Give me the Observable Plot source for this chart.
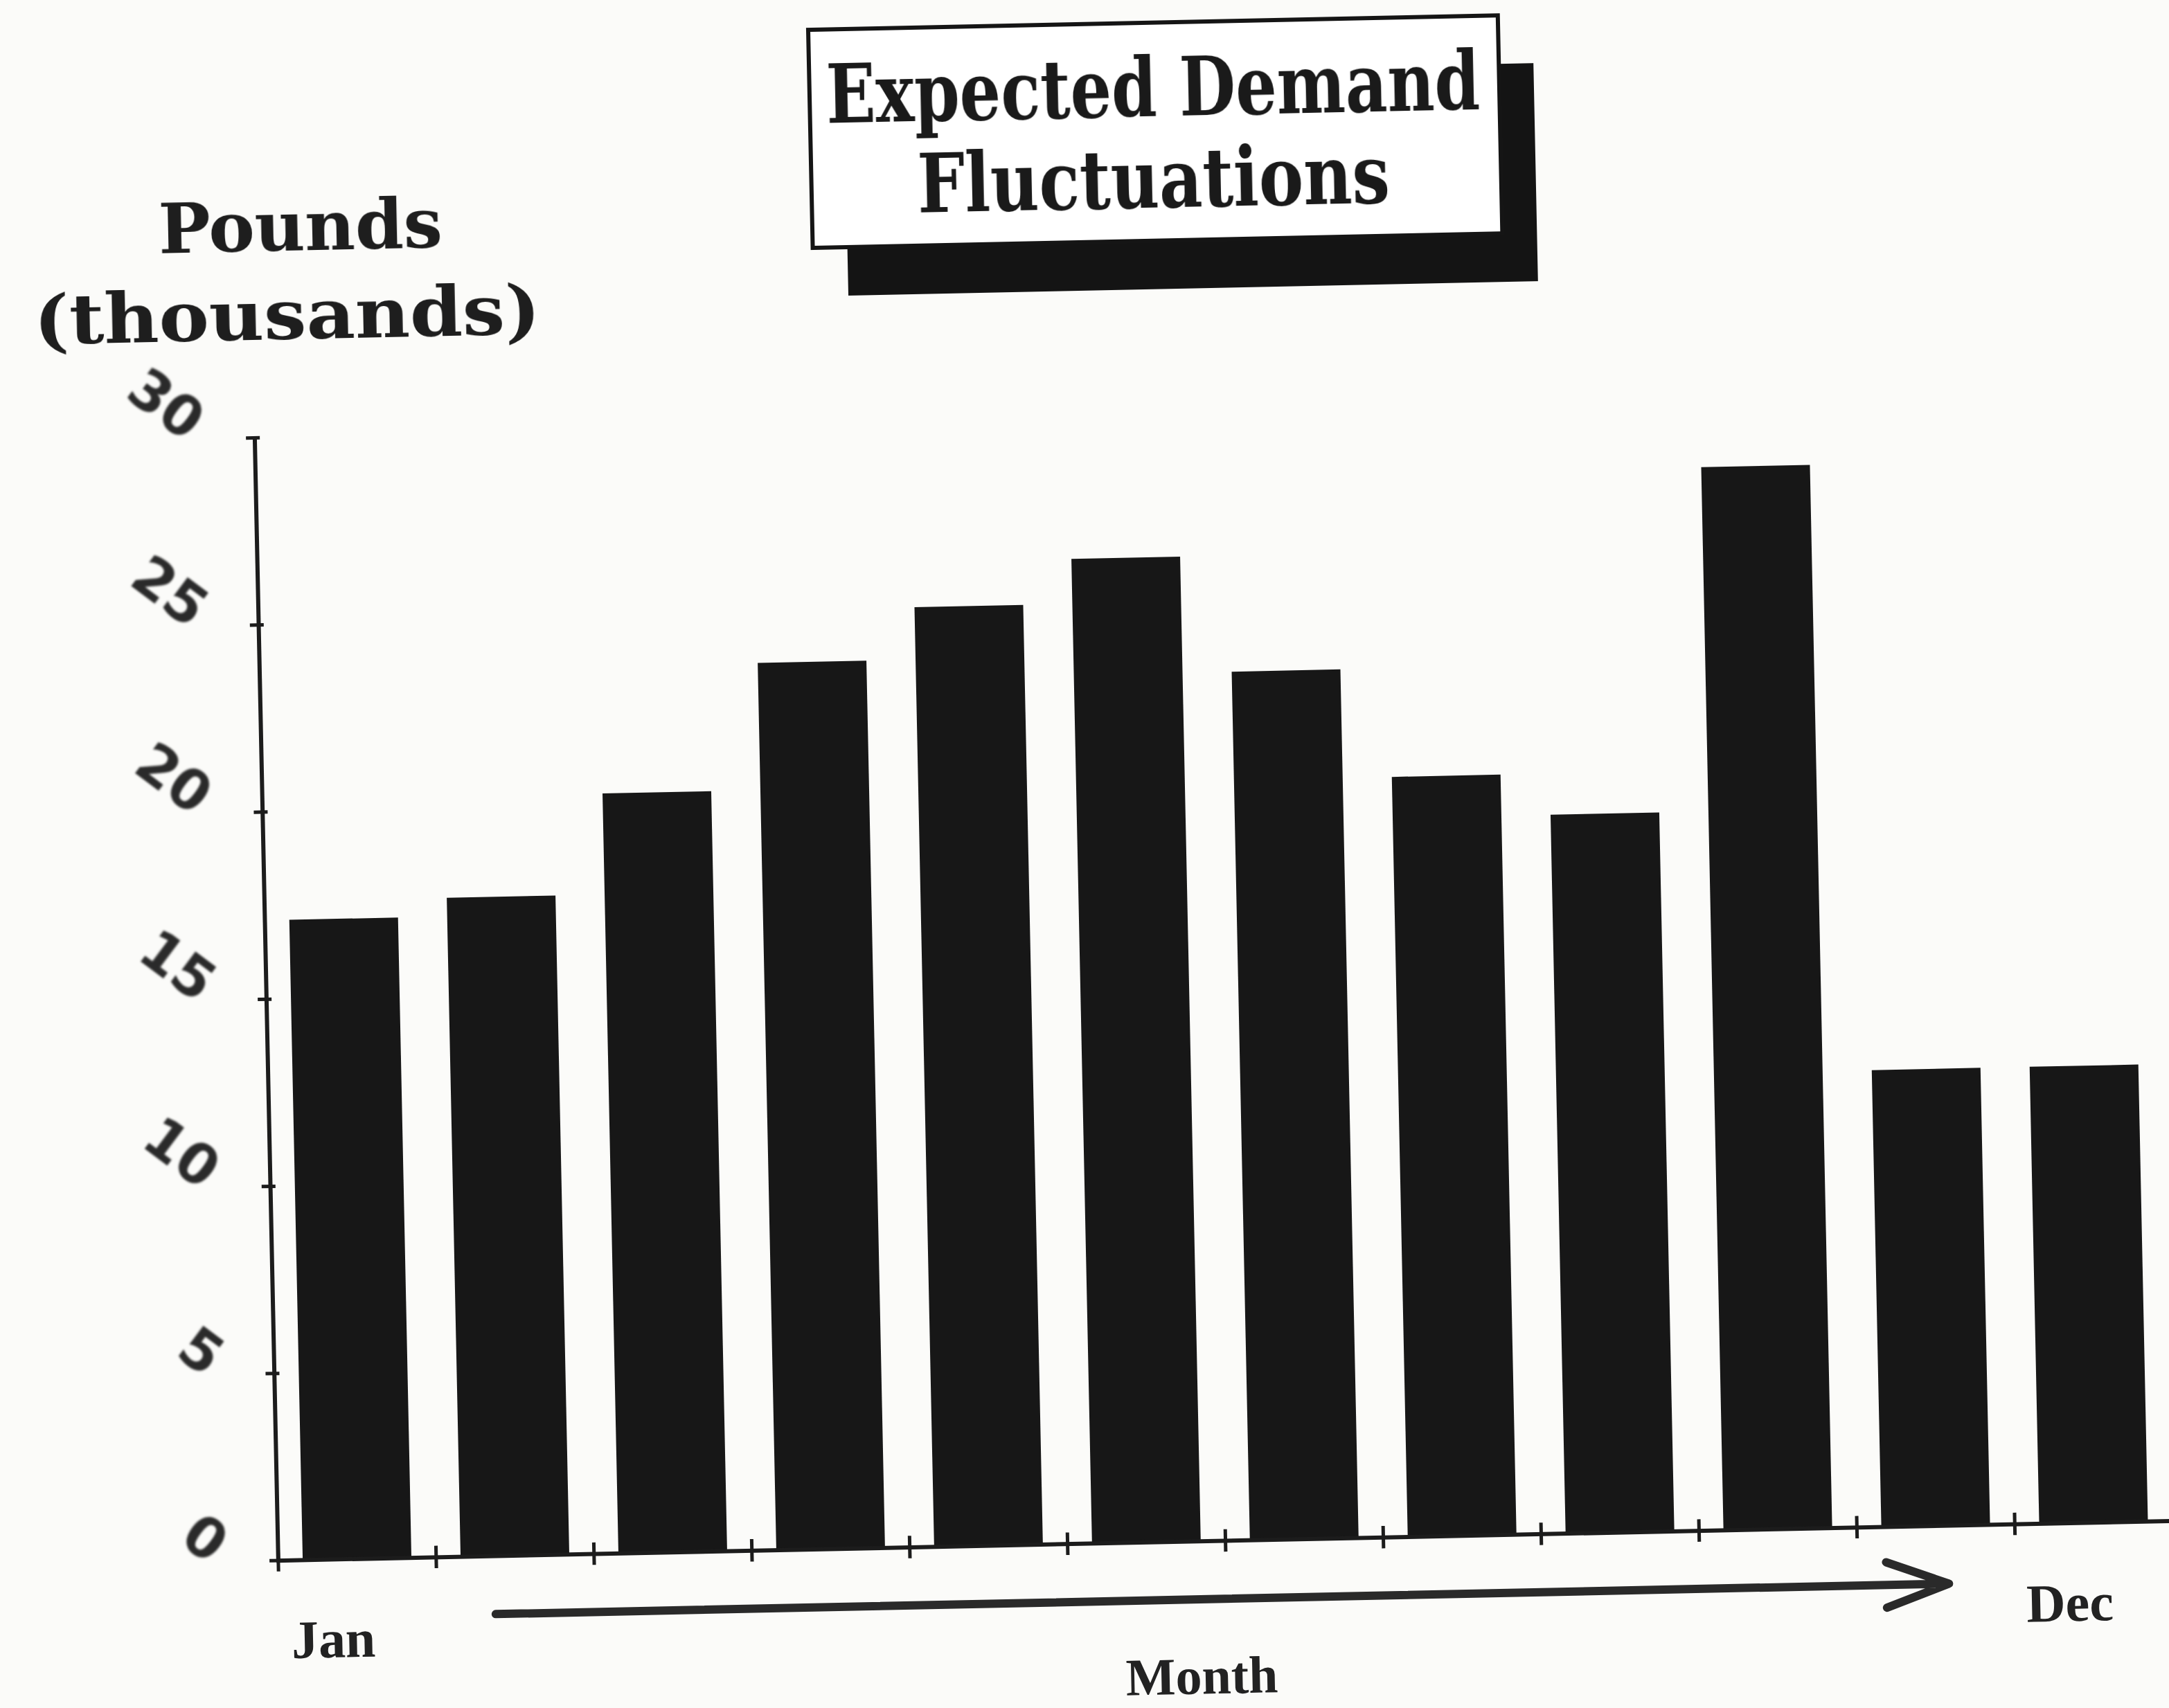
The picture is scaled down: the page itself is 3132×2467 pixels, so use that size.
<!DOCTYPE html>
<html>
<head>
<meta charset="utf-8">
<script src="https://cdn.jsdelivr.net/npm/d3@7"></script>
<script src="https://cdn.jsdelivr.net/npm/@observablehq/plot@0.6"></script>
<style>
  html, body { margin: 0; padding: 0; background: #fbfbf9; overflow: hidden; }
  #page {
    position: relative; width: 3132px; height: 2467px;
    transform: rotate(-1.2deg); transform-origin: 50% 50%;
  }
  #page > svg { position: absolute; left: 0; top: 0; }
  #overlay { pointer-events: none; }
</style>
</head>
<body>
<div id="page">
  <div id="chart"></div>
  <svg id="overlay" width="3132" height="2467" xmlns="http://www.w3.org/2000/svg">
    <!-- title box with drop shadow -->
    <rect x="1242" y="105" width="996" height="315" fill="#141414"/>
    <rect x="1192" y="35" width="996" height="315" fill="#ffffff" stroke="#151515" stroke-width="6"/>
    <text x="1688" y="170" text-anchor="middle" textLength="944" lengthAdjust="spacingAndGlyphs"
          font-family="'DejaVu Serif Condensed', 'DejaVu Serif', serif" font-weight="bold" font-size="118" fill="#1a1a1a">Expected Demand</text>
    <text x="1686" y="302" text-anchor="middle" textLength="682" lengthAdjust="spacingAndGlyphs"
          font-family="'DejaVu Serif Condensed', 'DejaVu Serif', serif" font-weight="bold" font-size="118" fill="#1a1a1a">Fluctuations</text>
    <!-- y-axis title -->
    <text x="248" y="338" textLength="410" lengthAdjust="spacingAndGlyphs"
          font-family="'DejaVu Serif Condensed', 'DejaVu Serif', serif" font-weight="bold" font-size="100" fill="#1e1e1e">Pounds</text>
    <text x="65" y="466" textLength="732" lengthAdjust="spacingAndGlyphs"
          font-family="'DejaVu Serif Condensed', 'DejaVu Serif', serif" font-weight="bold" font-size="100" fill="#1e1e1e">(thousands)</text>
  </svg>
</div>
<script>
// Monthly expected demand, in thousands of pounds
const months = ["Jan", "Feb", "Mar", "Apr", "May", "Jun", "Jul", "Aug", "Sep", "Oct", "Nov", "Dec"];
const demand = [17.1, 17.6, 20.3, 23.7, 25.1, 26.3, 23.2, 20.3, 19.2, 28.4, 12.2, 12.2];
const yTicks = [0, 5, 10, 15, 20, 25, 30];
const labeledMonths = ["Jan", "Dec"];
const arrowSpan = {from: "Feb", to: "Nov", y: -1.55};

const data = months.map((month, i) => ({month, demand: demand[i]}));

const W = 3132, H = 2467;
const marginLeft = 378, marginRight = 12, marginTop = 607, marginBottom = 238;
const step = (W - marginLeft - marginRight) / months.length;

const ink = "#1c1c1c";

const chart = Plot.plot({
  width: W,
  height: H,
  marginLeft, marginRight, marginTop, marginBottom,
  style: {background: "transparent", color: ink, overflow: "visible"},
  x: {domain: months, paddingInner: 0.31, paddingOuter: 0.155, axis: null},
  y: {domain: [0, 30], axis: null},
  marks: [
    Plot.barY(data, {x: "month", y: "demand", fill: "#171717"}),
    // baseline and vertical axis line
    Plot.ruleY([0], {stroke: ink, strokeWidth: 6}),
    Plot.ruleX([months[0]], {x: d => d, y1: 0, y2: 30, dx: -step / 2, stroke: ink, strokeWidth: 6}),
    // small ticks across the baseline at month boundaries
    Plot.ruleX(months, {x: d => d, y1: -0.3, y2: 0.3, dx: -step / 2, stroke: ink, strokeWidth: 5}),
    // y ticks crossing the axis line (tick lines only)
    Plot.axisY({ticks: yTicks, tickSize: 20, dx: 10, fill: "none", label: null, stroke: ink, strokeWidth: 5}),
    // rotated y tick labels
    Plot.axisY({
      ticks: yTicks, tickSize: 0, tickPadding: 82, dy: -16, tickRotate: 38, label: null,
      textAnchor: "end", fontSize: 80, fontWeight: "bold",
      fontFamily: "'DejaVu Sans', sans-serif", fill: "#2a2a2a"
    }),
    Plot.axisX({
      ticks: labeledMonths, tickSize: 0, tickPadding: 86, dx: -37, label: null,
      fontSize: 78, fontWeight: "bold", fontFamily: "'Liberation Serif', serif", fill: "#222"
    }),
    Plot.text(["Month"], {
      frameAnchor: "bottom", dy: 196, dx: -39, lineAnchor: "middle",
      fontSize: 76, fontWeight: "bold", fontFamily: "'Liberation Serif', serif", fill: "#222"
    }),
    Plot.arrow([arrowSpan], {
      x1: "from", x2: "to", y1: "y", y2: "y",
      insetStart: -30, insetEnd: -17, headLength: 12, headAngle: 40,
      stroke: "#2a2a2a", strokeWidth: 12
    })
  ]
});

document.getElementById("chart").appendChild(chart);
chart.style.position = "absolute";
chart.style.left = "0px";
chart.style.top = "0px";

// soften the rotated y tick labels slightly
chart.querySelectorAll('[aria-label="y-axis tick label"]').forEach(g => g.style.filter = "blur(1.5px)");
</script>
</body>
</html>
